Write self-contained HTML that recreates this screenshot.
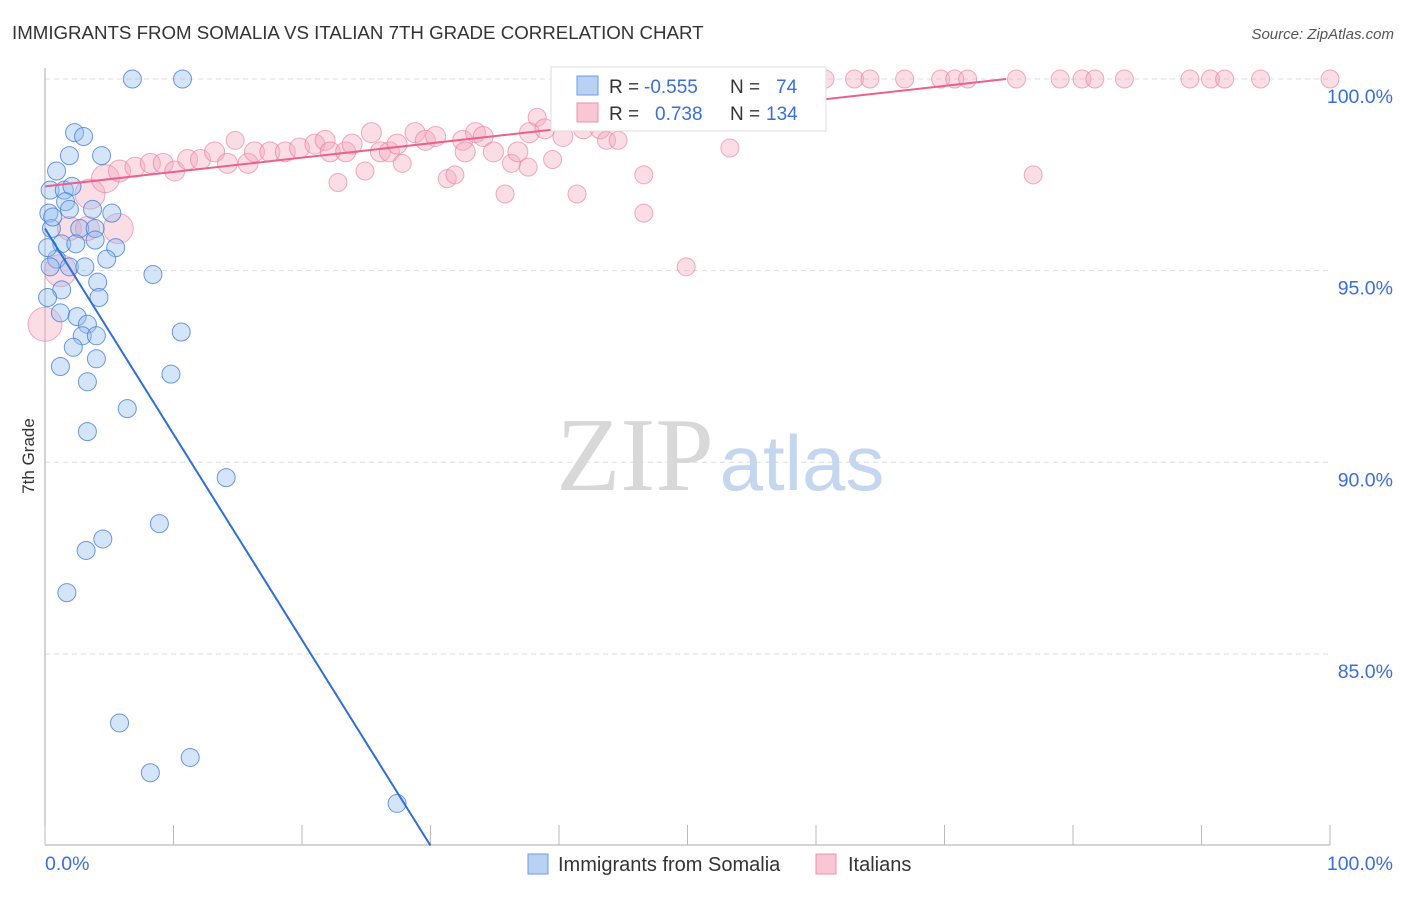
<!DOCTYPE html>
<html><head><meta charset="utf-8"><style>
body{margin:0;background:#fff;font-family:"Liberation Sans",sans-serif;}
svg text{font-family:"Liberation Sans",sans-serif;}
</style></head><body>
<svg width="1406" height="892" xmlns="http://www.w3.org/2000/svg">
<text x="12" y="39" font-size="18.7" fill="#333">IMMIGRANTS FROM SOMALIA VS ITALIAN 7TH GRADE CORRELATION CHART</text>
<text x="1394" y="39" font-size="15" fill="#555" font-style="italic" text-anchor="end">Source: ZipAtlas.com</text>
<g id="grid"></g>
<g>
<text x="635" y="490" font-size="105" fill="#d8d8d8" text-anchor="middle" style="font-family:'Liberation Serif',serif">ZIP</text>
<text x="802" y="490" font-size="78" fill="#c5d6ef" text-anchor="middle">atlas</text>
</g>
<line x1="45" y1="68" x2="45" y2="845" stroke="#aaa"/>
<line x1="45" y1="845" x2="1330" y2="845" stroke="#aaa"/>
<g id="ticks"></g>
<g id="pinkpts"></g>
<g id="bluepts"></g>
<g id="lines"></g>
<text x="34" y="456" font-size="17" fill="#333" text-anchor="middle" transform="rotate(-90 34 456)">7th Grade</text>
<text x="45" y="870" font-size="19.5" fill="#3a6fd8">0.0%</text>
<text x="1393" y="870" font-size="19.5" fill="#3a6fd8" text-anchor="end">100.0%</text>
<g>
<rect x="551" y="67" width="275" height="64" fill="#fff" stroke="#ddd"/>
<rect x="577" y="76" width="21" height="19" fill="#b9d1f3" stroke="#6d9de0"/>
<rect x="577" y="103" width="21" height="19" fill="#f9c6d4" stroke="#ec93ad"/>
<text x="609" y="93" font-size="19" fill="#333">R = </text>
<text x="644" y="93" font-size="19" fill="#3a6fd8">-0.555</text>
<text x="730" y="93" font-size="19" fill="#333">N = </text>
<text x="776" y="93" font-size="19" fill="#3a6fd8">74</text>
<text x="609" y="120" font-size="19" fill="#333">R = </text>
<text x="655" y="120" font-size="19" fill="#3a6fd8">0.738</text>
<text x="730" y="120" font-size="19" fill="#333">N = </text>
<text x="766" y="120" font-size="19" fill="#3a6fd8">134</text>
</g>
<g>
<rect x="528" y="854" width="20" height="20" fill="#b9d1f3" stroke="#6d9de0"/>
<text x="558" y="871" font-size="20" fill="#333">Immigrants from Somalia</text>
</g>
<g>
<rect x="816" y="854" width="20" height="20" fill="#f9c6d4" stroke="#ec93ad"/>
<text x="848" y="871" font-size="20" fill="#333">Italians</text>
</g>
</svg>
<script>
const yTicks=[100,95,90,85];
const yTickLabels=["100.0%","95.0%","90.0%","85.0%"];
const xTicks=[0,10,20,30,40,50,60,70,80,90,100];
const blueX=[6.8,10.7,2.3,3.0,1.9,4.4,0.9,0.4,1.5,2.1,1.6,5.2,0.3,1.9,3.7,0.5,2.7,3.9,1.3,2.4,3.9,5.5,0.9,4.8,0.4,1.9,3.1,8.4,4.1,1.3,4.2,0.2,1.2,2.5,3.3,10.6,2.9,4.0,2.2,4.0,1.2,9.8,3.3,6.4,3.3,14.1,8.9,4.5,3.2,1.7,5.8,11.3,8.2,27.4,0.2,0.6];
const blueY=[100,100,98.6,98.5,98.0,98.0,97.6,97.1,97.1,97.2,96.8,96.5,96.5,96.6,96.6,96.1,96.1,96.1,95.7,95.7,95.8,95.6,95.3,95.3,95.1,95.1,95.1,94.9,94.7,94.5,94.3,94.3,93.9,93.8,93.6,93.4,93.3,93.3,93.0,92.7,92.5,92.3,92.1,91.4,90.8,89.6,88.4,88.0,87.7,86.6,83.2,82.3,81.9,81.1,95.6,96.4];
const pinkX=[0,1.2,1.9,3.3,5.7,3.5,4.7,5.8,7.0,8.2,9.2,10.1,11.1,12.1,13.2,14.2,14.8,15.8,16.3,17.5,18.7,19.8,21.0,21.8,22.2,22.8,23.4,23.9,24.9,25.4,26.1,26.8,27.4,27.8,28.8,29.6,30.4,31.3,31.9,32.5,32.7,33.5,34.1,34.9,35.8,36.3,36.8,37.6,37.7,38.3,38.9,39.5,40.3,41.4,41.9,43.2,43.7,44.6,46.6,46.6,47.2,49.9,52.1,53.3,54.1,55.6,58.4,60.7,63.0,64.2,66.9,69.7,70.8,71.8,75.6,76.9,79.0,80.7,81.7,84.0,89.1,90.7,91.8,94.6,100];
const pinkY=[93.6,95.0,96.1,96.1,96.1,97.0,97.4,97.6,97.7,97.8,97.8,97.6,97.9,97.9,98.1,97.8,98.4,97.8,98.1,98.1,98.1,98.2,98.3,98.4,98.1,97.3,98.1,98.3,97.6,98.6,98.1,98.1,98.3,97.8,98.6,98.4,98.5,97.4,97.5,98.4,98.1,98.6,98.5,98.1,97.0,97.8,98.1,97.7,98.6,99.0,98.7,97.9,98.5,97.0,98.7,98.7,98.4,98.4,97.5,96.5,100,95.1,99.3,98.2,100,100,100,100,100,100,100,100,100,100,100,97.5,100,100,100,100,100,100,100,100,100];
const pinkR=[17,16,12,12,15,15,14,11,10,10,10,10,10,10,10,10,9,10,10,10,10,10,10,10,10,9,10,10,9,10,10,10,10,9,10,10,10,9,9,10,10,10,10,10,9,9,10,9,10,9,10,9,10,9,10,10,9,9,9,9,9,9,9,9,9,9,9,9,9,9,9,9,9,9,9,9,9,9,9,9,9,9,9,9,9];
const blueTrend=[[0,96.1],[30,80.0]];
const pinkTrend=[[0,97.2],[74.8,100]];
const X=v=>45+v*12.85, Y=v=>79+(100-v)*38.33;
const NS="http://www.w3.org/2000/svg";
function mk(t,a,p){const e=document.createElementNS(NS,t);for(const k in a)e.setAttribute(k,a[k]);p.appendChild(e);return e;}
const grid=document.getElementById('grid'),ticks=document.getElementById('ticks');
yTicks.forEach((v,i)=>{
 const l=mk('line',{x1:45,x2:1330,y1:Y(v),y2:Y(v),stroke:'#ddd','stroke-dasharray':'5,4'},grid);
 
 
 const t=mk('text',{x:1393,y:Y(v)+24,'font-size':19.5,fill:'#3a6fd8','text-anchor':'end'},ticks);
 t.textContent=yTickLabels[i];
 
 
});
xTicks.forEach(v=>{
 const l=mk('line',{x1:X(v),x2:X(v),y1:825,y2:845,stroke:'#bbb'},ticks);
 
 
});
const pg=document.getElementById('pinkpts');
pinkX.forEach((x,i)=>{
 const c=mk('circle',{cx:X(x),cy:Y(pinkY[i]),r:pinkR[i],fill:'rgba(246,170,192,0.4)',stroke:'rgba(232,120,155,0.6)','stroke-width':1},pg);
 
 
});
const bg=document.getElementById('bluepts');
blueX.forEach((x,i)=>{
 const c=mk('circle',{cx:X(x),cy:Y(blueY[i]),r:9,fill:'rgba(150,190,240,0.4)',stroke:'rgba(60,120,215,0.75)','stroke-width':1},bg);
 
 
});
const lg=document.getElementById('lines');
const bl=mk('line',{x1:X(blueTrend[0][0]),y1:Y(blueTrend[0][1]),x2:X(blueTrend[1][0]),y2:Y(blueTrend[1][1]),stroke:'#2f6fd6','stroke-width':2},lg);


const pl=mk('line',{x1:X(pinkTrend[0][0]),y1:Y(pinkTrend[0][1]),x2:X(pinkTrend[1][0]),y2:Y(pinkTrend[1][1]),stroke:'#e8628c','stroke-width':2},lg);


</script>
</body></html>
